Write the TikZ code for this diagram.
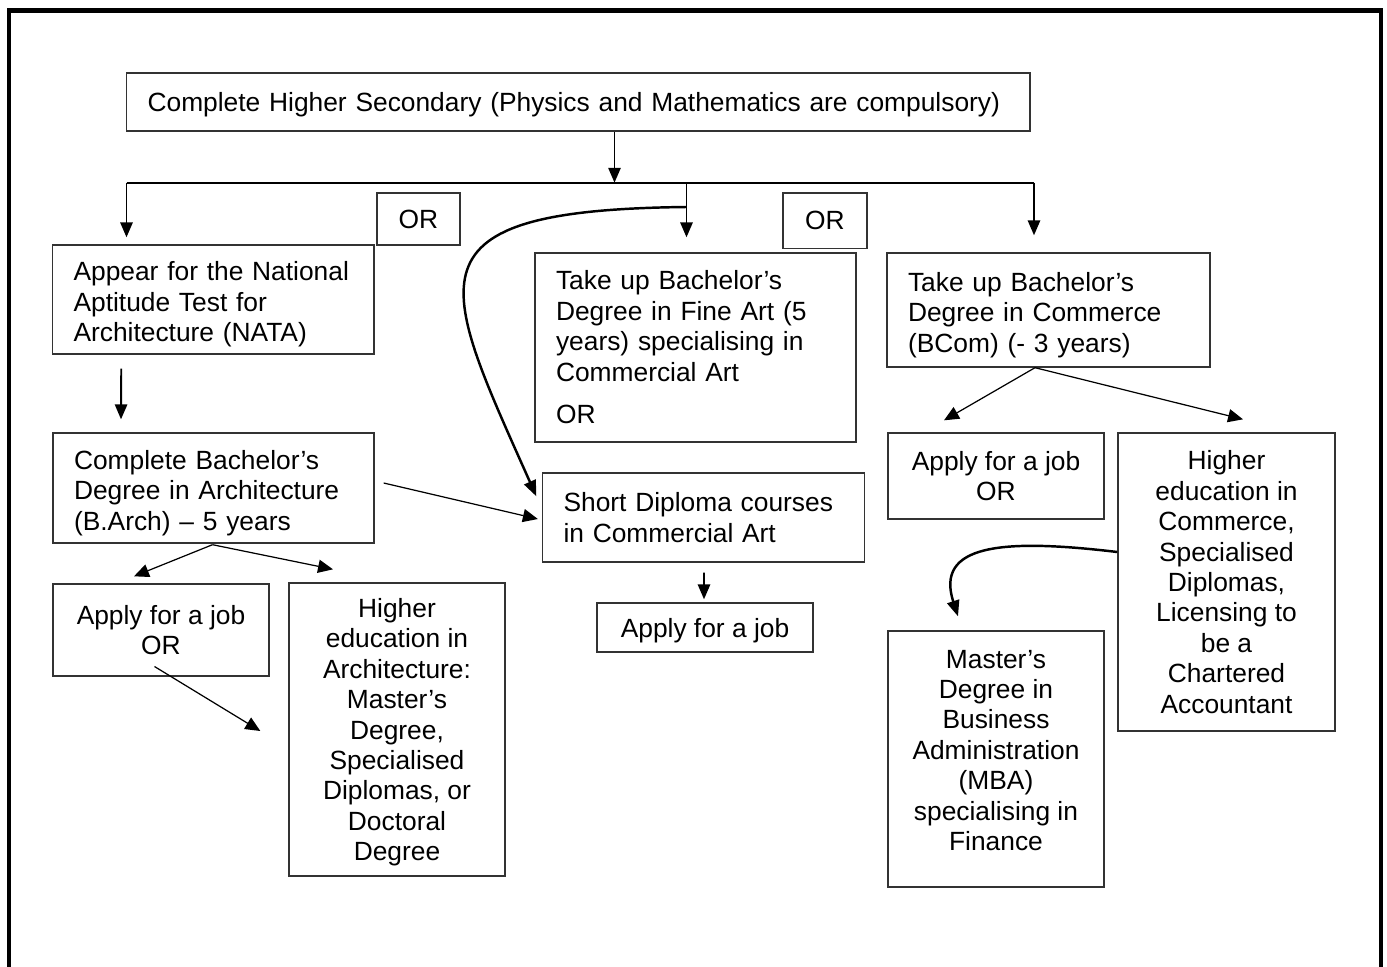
\documentclass[tikz,border=0pt]{standalone}
\usepackage{fontspec}
\setmainfont{Liberation Sans}
\usetikzlibrary{arrows.meta}

\begin{document}
\begin{tikzpicture}[x=0.02cm, y=-0.02cm,
  box/.style={draw=black!80, line width=0.8pt, inner xsep=0.42cm, inner ysep=0pt,
    font=\fontsize{15}{17.3}\selectfont},
  lbox/.style={box, align=left},
  cbox/.style={box, align=center, inner xsep=2pt},
  lowtext/.style={text depth=#1},
  arr/.style={line width=1.1pt, -{Triangle[length=8.5pt,width=7pt]}},
  thinarr/.style={line width=0.7pt, -{Triangle[length=8.5pt,width=7.5pt]}},
  bendarr/.style={line width=1.4pt, -{Triangle[length=9pt,width=7pt]}}]

\useasboundingbox (0,0) rectangle (1387,967);

% Frame (open at the bottom)
\draw[line width=2.8pt] (9,967) -- (9,10.5) -- (1381,10.5) -- (1381,967);

% Start
\node[lbox, text width=17.23cm, minimum height=1.16cm, lowtext=0pt] (hsec) at (578.25,102)
  {Complete Higher Secondary (Physics and Mathematics are compulsory)};

% Branch line
\coordinate (busL) at (126.5,182.7);
\coordinate (split) at (614.5,182.7);
\coordinate (busM) at (686.5,182.7);
\coordinate (busR) at (1034,182.7);
\coordinate (fork) at (686.5,207);

% First choices
\node[cbox, minimum width=1.66cm, minimum height=1.04cm] (orA) at (418.5,219) {OR};
\node[cbox, minimum width=1.68cm, minimum height=1.11cm] (orB) at (825,220.75) {OR};
\node[lbox, text width=5.59cm, minimum height=2.18cm, lowtext=32pt] (nata) at (213.25,299.5)
  {Appear for the National\\Aptitude Test for\\Architecture (NATA)};
\node[lbox, text width=5.58cm, minimum height=3.78cm] (fineart) at (695.5,347.5)
  {Take up Bachelor’s\\Degree in Fine Art (5\\years) specialising in\\Commercial Art\\[7pt]OR};
\node[lbox, text width=5.62cm, minimum height=2.28cm, lowtext=32pt] (bcom) at (1048.5,310)
  {Take up Bachelor’s\\Degree in Commerce\\(BCom) (- 3 years)};

% Architecture
\node[lbox, text width=5.58cm, minimum height=2.2cm, lowtext=32pt] (barch) at (213.5,488)
  {Complete Bachelor’s\\Degree in Architecture\\(B.Arch) – 5 years};
\node[cbox, minimum width=4.32cm, minimum height=1.84cm] (jobA) at (161,630)
  {Apply for a job\\OR};
\node[cbox, minimum width=4.32cm, minimum height=5.86cm, lowtext=-3pt] (higharch) at (397,729.5)
  {Higher\\education in\\Architecture:\\Master’s\\Degree,\\Specialised\\Diplomas, or\\Doctoral\\Degree};

% Commercial art
\node[lbox, text width=5.6cm, minimum height=1.78cm] (diploma) at (703.5,517.5)
  {Short Diploma courses\\in Commercial Art};
\node[cbox, minimum width=4.32cm, minimum height=0.98cm, lowtext=0pt] (jobB) at (705,627.5)
  {Apply for a job};

% Commerce
\node[cbox, minimum width=4.32cm, minimum height=1.72cm] (jobC) at (996,476)
  {Apply for a job\\OR};
\node[cbox, minimum width=4.34cm, minimum height=5.96cm] (highcom) at (1226.5,582)
  {Higher\\education in\\Commerce,\\Specialised\\Diplomas,\\Licensing to\\be a\\Chartered\\Accountant};
\node[cbox, minimum width=4.32cm, minimum height=5.12cm, lowtext=10pt] (mba) at (996,759)
  {Master’s\\Degree in\\Business\\Administration\\(MBA)\\specialising in\\Finance};

% Connectors from the start
\draw[arr] (hsec.south -| split) -- (split);
\draw[line width=1.1pt] (busL) -- (busR);
\draw[arr, shorten >=0.14cm] (busL) -- (busL |- nata.north);
\draw[arr, shorten >=0.3cm] (busM) -- (busM |- fineart.north);
\draw[arr, shorten >=0.34cm] (busR) -- (busR |- bcom.north);
\draw[bendarr] (fork) .. controls (400,210) and (440,280) .. ([shift={(-5.5,24)}]diploma.north west);

% Architecture connectors
\draw[arr] ([shift={(-92,14)}]nata.south) -- ([shift={(-92.5,-13)}]barch.north);
\draw[thinarr] ([shift={(9,-5)}]barch.east) -- ([shift={(-4,1.5)}]diploma.west);
\draw[thinarr] ([shift={(-1,1)}]barch.south) -- ([shift={(-27,-7)}]jobA.north);
\draw[thinarr] ([shift={(-1,1)}]barch.south) -- ([shift={(-64,-13)}]higharch.north);
\draw[thinarr] ([shift={(-6.5,36.5)}]jobA.center) -- ([shift={(-28,1.5)}]higharch.west);

% Commercial art connector
\draw[arr] ([shift={(0.5,10)}]diploma.south) -- ([shift={(-1,-3)}]jobB.north);

% Commerce connectors
\draw[thinarr] ([shift={(-13.5,0)}]bcom.south) -- ([shift={(-52,-12)}]jobC.north);
\draw[thinarr] ([shift={(-13.5,0)}]bcom.south) -- ([shift={(16.5,-13)}]highcom.north);
\draw[bendarr] ([shift={(0,-30)}]highcom.west) .. controls (1000,538) and (935,545) .. ([shift={(-38,-14)}]mba.north);

\end{tikzpicture}
\end{document}
